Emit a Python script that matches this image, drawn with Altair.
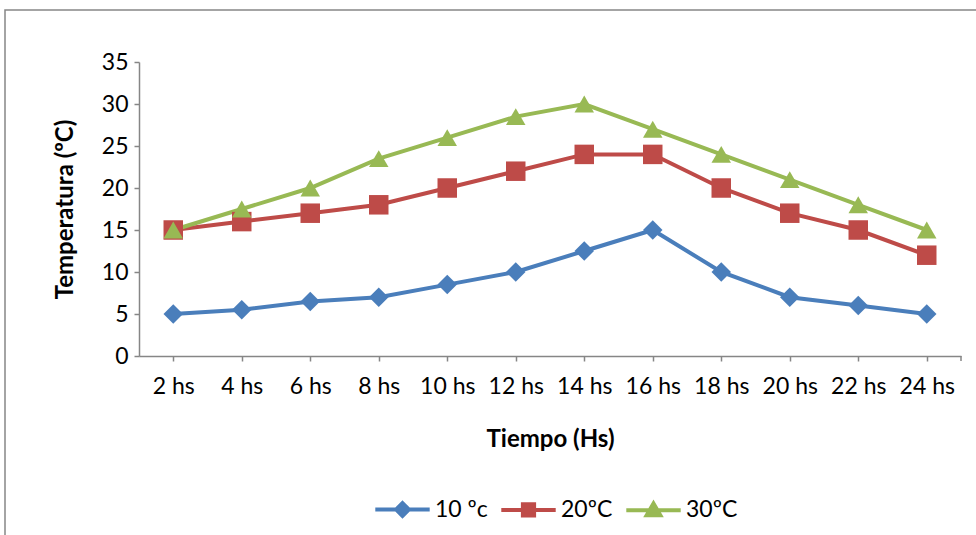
import altair as alt
import pandas as pd

horas = ["2 hs", "4 hs", "6 hs", "8 hs", "10 hs", "12 hs", "14 hs", "16 hs", "18 hs", "20 hs", "22 hs", "24 hs"]
series = ["10 ºc", "20ºC", "30ºC"]
t10 = [5, 5.5, 6.5, 7, 8.5, 10, 12.5, 15, 10, 7, 6, 5]
t20 = [15, 16, 17, 18, 20, 22, 24, 24, 20, 17, 15, 12]
t30 = [15, 17.5, 20, 23.5, 26, 28.5, 30, 27, 24, 21, 18, 15]
colors = ["#4A7EBB", "#BE4B48", "#98B954"]
shapes = ["diamond", "square", "triangle-up"]

rows = []
for s, vals in zip(series, [t10, t20, t30]):
    for h, v in zip(horas, vals):
        rows.append({"Tiempo": h, "Serie": s, "Temp": v})
df = pd.DataFrame(rows)

FONT = "Lato"
W, H = 822, 294

x = alt.X("Tiempo:N", sort=horas, scale=alt.Scale(paddingInner=0, paddingOuter=0),
          axis=alt.Axis(title="Tiempo (Hs)", labelAngle=0, bandPosition=0, ticks=True,
                        tickSize=5, labelPadding=14, titlePadding=29))
y = alt.Y("Temp:Q", scale=alt.Scale(domain=[0, 35]),
          axis=alt.Axis(title="Temperatura (ºC)", values=list(range(0, 36, 5)), grid=False,
                        tickSize=5, labelPadding=6, titlePadding=24))
color = alt.Color("Serie:N", scale=alt.Scale(domain=series, range=colors), legend=None)

base = alt.Chart(df)
lines = base.mark_line(strokeWidth=4).encode(x=x, y=y, color=color)
points = base.mark_point(filled=True, opacity=1, size=380).encode(
    x=x, y=y, color=color,
    shape=alt.Shape("Serie:N", scale=alt.Scale(domain=series, range=shapes), legend=None))

# legend symbols: line + marker
leg_paths = [
    "M-3.4,0H3.4M0,-0.8L0.8,0L0,0.8L-0.8,0Z",
    "M-3.4,0H3.4M-0.7,-0.7H0.7V0.7H-0.7Z",
    "M-3.4,0H3.4M0,-0.85L0.85,0.6H-0.85Z",
]
leg = alt.Legend(title=None, orient="none", direction="horizontal",
                 legendX=252, legendY=436, padding=0,
                 symbolSize=256, symbolStrokeWidth=4,
                 labelFontSize=23, labelFont=FONT, labelColor="#000000",
                 columnPadding=5, labelOffset=21, symbolOffset=0)
legend_layer = base.transform_calculate(Leg="datum.Serie").mark_point(
    filled=True, opacity=1, strokeWidth=4
).encode(
    x=x, y=y,
    color=alt.Color("Leg:N", scale=alt.Scale(domain=series, range=colors), legend=leg),
    stroke=alt.Stroke("Leg:N", scale=alt.Scale(domain=series, range=colors), legend=leg),
    shape=alt.Shape("Leg:N", scale=alt.Scale(domain=series, range=leg_paths), legend=leg),
).transform_filter("false")

frame = alt.Chart(pd.DataFrame({"a": [0]})).mark_rect(
    fill=None, stroke="#868686", strokeWidth=1.5, clip=False
).encode(x=alt.value(-134), x2=alt.value(W + 40), y=alt.value(-52), y2=alt.value(H + 200))

end_tick = alt.Chart(pd.DataFrame({"a": [0]})).mark_rule(
    stroke="#868686", strokeWidth=1.5
).encode(x=alt.value(W), y=alt.value(H), y2=alt.value(H + 5))

chart = alt.layer(frame, lines, points, legend_layer, end_tick).resolve_scale(
    shape="independent", color="independent", stroke="independent"
).properties(
    width=W, height=H,
    autosize=alt.AutoSizeParams(type="none"),
    padding={"left": 139, "top": 62, "right": 15, "bottom": 179},
    background="white",
).configure_view(stroke=None).configure_axis(
    domainColor="#868686", tickColor="#868686", domainWidth=1.5, tickWidth=1.5,
    labelFont=FONT, titleFont=FONT, labelFontSize=23, titleFontSize=24,
    labelColor="#000000", titleColor="#000000", titleFontWeight="bold",
)

chart.save("out.html", embed_options={"renderer": "svg", "actions": False})
